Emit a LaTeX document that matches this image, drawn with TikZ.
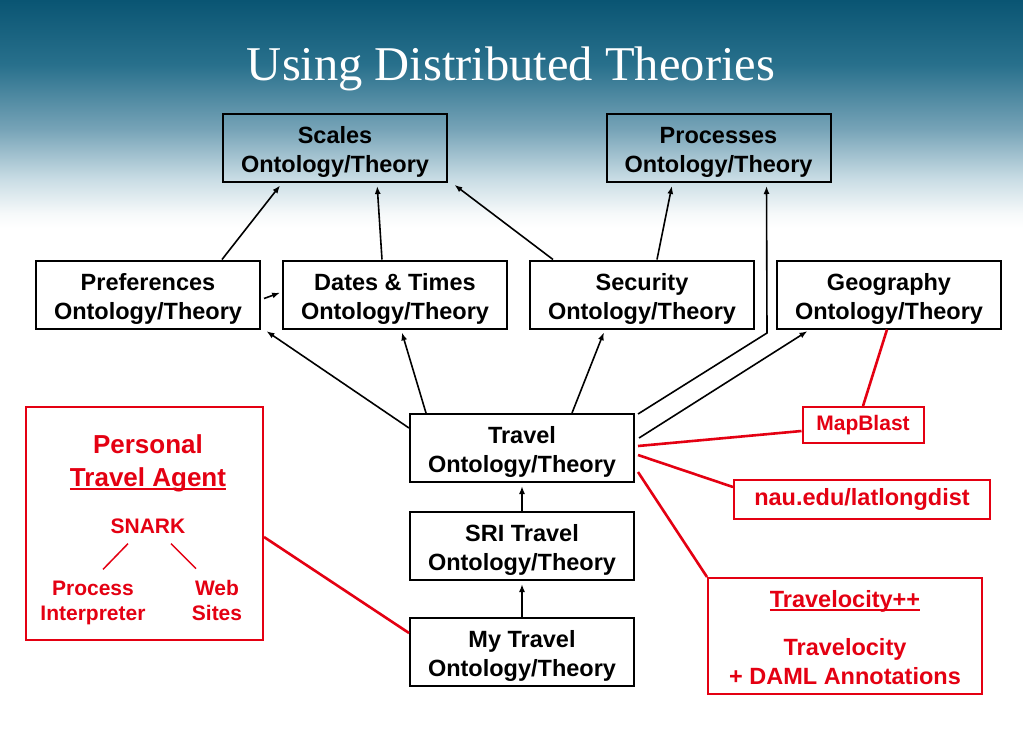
\documentclass[tikz,border=0pt]{standalone}
\usepackage{fontspec}
\setmainfont{Liberation Sans}
\newfontfamily\titlefont{Liberation Serif}
\usetikzlibrary{positioning,arrows.meta}
\definecolor{mred}{RGB}{228,0,18}
\definecolor{sky0}{RGB}{10,85,115}
\definecolor{sky1}{RGB}{40,112,140}
\definecolor{sky2}{RGB}{118,163,183}
\definecolor{sky3}{RGB}{200,220,228}
\definecolor{sky4}{RGB}{246,249,250}
\pgfdeclareverticalshading{skyfade}{100bp}{color(0bp)=(white); color(25bp)=(white); color(28.25bp)=(sky4); color(35.85bp)=(sky3); color(46.75bp)=(sky2); color(60.85bp)=(sky1); color(75bp)=(sky0); color(100bp)=(sky0)}
\newcommand\thickul[1]{\setbox0\hbox{#1}\rlap{\rule[-3.5pt]{\wd0}{2pt}}\box0}
\newcommand\onto[1]{\rule{0pt}{25pt}#1\\Ontology/Theory}
\begin{document}
\begin{tikzpicture}[x=1pt, y=-1pt, node distance=21pt,
  font=\bfseries\fontsize{23.5}{29}\selectfont,
  box/.style={draw, line width=2pt, minimum width=224pt, minimum height=68pt, align=center, inner sep=0pt},
  wbox/.style={box, fill=white},
  rbox/.style={draw=mred, text=mred, line width=2pt, align=center, inner sep=0pt},
  rtext/.style={text=mred, align=center, inner sep=0pt},
  small/.style={font=\bfseries\fontsize{21}{25}\selectfont},
  arr/.style={line width=1.6pt, -{Latex[length=8pt,width=6pt]}, shorten >=3pt},
  rline/.style={mred, line width=2.6pt},
  tline/.style={mred, line width=1.5pt}]
\useasboundingbox (0,0) rectangle (1023,731);
\fill[white] (0,0) rectangle (1023,731);
\fill[shading=skyfade] (0,0) rectangle (1023,228);
\node[font=\titlefont\fontsize{48.5}{58}\selectfont, text=white, anchor=base] (title) at (511,80) {Using Distributed Theories};

\node[box] (scales) at (335,148) {\onto{Scales}};
\node[box] (procs) at (718.5,148) {\onto{Processes}};
\node[wbox] (prefs) at (148,294.5) {\onto{Preferences}};
\node[wbox, right=of prefs] (dates) {\onto{Dates \& Times}};
\node[wbox, right=of dates] (secur) {\onto{Security}};
\node[wbox, right=of secur] (geo) {\onto{Geography}};
\node[wbox] (travel) at (522,448) {\onto{Travel}};
\node[wbox, below=28pt of travel] (sri) {\onto{SRI Travel}};
\node[wbox, below=36pt of sri] (mytrav) {\onto{My Travel}};

\node[rbox, small, minimum width=121pt, minimum height=36pt] (mapb) at (863,425) {MapBlast};
\node[rbox, minimum width=256pt, minimum height=39pt] (nau) at (862,499.5) {nau.edu/latlongdist};
\node[rbox, minimum width=274pt, minimum height=116pt] (trvl) at (845,636) {\rule{0pt}{21pt}\thickul{Travelocity++}\\[19pt]Travelocity\\+ DAML Annotations};
\node[rbox, minimum width=237pt, minimum height=233pt] (pta) at (144.5,523.5) {};
\node[rtext, font=\bfseries\fontsize{26}{33}\selectfont] (ptaname) at (148,462) {\rule{0pt}{21pt}Personal\\\thickul{Travel Agent}};
\node[rtext, small] (snark) at (148,526) {SNARK};
\node[rtext, small] (interp) at (93,602.5) {Process\\Interpreter};
\node[rtext, small] (websites) at (217,600) {Web\\Sites};

\coordinate (bend) at (767,333);

\draw[arr] ([xshift=-39pt]prefs.north east) -- ([xshift=60pt]scales.south west);
\draw[arr] ([xshift=-13pt]dates.north) -- ([xshift=42pt]scales.south);
\draw[arr] ([xshift=24pt]secur.north west) -- ([xshift=4pt]scales.south east);
\draw[arr] ([xshift=15pt]secur.north) -- ([xshift=-46pt]procs.south);
\draw[arr, shorten >=2pt] ([xshift=3pt,yshift=-4pt]prefs.east) -- ([yshift=2.5pt]dates.west);
\draw[arr] ([yshift=-15pt]travel.north west) -- ([xshift=3pt]prefs.south east);
\draw[arr] ([xshift=17pt]travel.north west) -- ([xshift=6pt]dates.south);
\draw[arr] ([xshift=50pt]travel.north) -- ([xshift=-37pt]secur.south);
\draw[arr] ([xshift=3pt,yshift=-1pt]travel.north east) -- (bend) -- ([xshift=-65pt]procs.south east);
\draw[arr] ([xshift=4pt,yshift=10pt]travel.east) -- ([xshift=34pt]geo.south west);
\draw[arr] (sri.north) -- (travel.south);
\draw[arr] (mytrav.north) -- (sri.south);

\draw[rline] ([xshift=-2pt]geo.south) -- (mapb.north);
\draw[rline] ([xshift=3pt,yshift=2pt]travel.east) -- ([yshift=-6pt]mapb.west);
\draw[rline] ([xshift=3pt,yshift=-7pt]travel.east) -- ([yshift=12.5pt]nau.west);
\draw[rline] ([xshift=3pt,yshift=-24pt]travel.east) -- (trvl.north west);
\draw[rline] ([yshift=-13.5pt]pta.east) -- ([yshift=19pt]mytrav.west);
\draw[tline] ([xshift=-20pt,yshift=-10pt]snark.south) -- ([xshift=10pt,yshift=11pt]interp.north);
\draw[tline] ([xshift=23pt,yshift=-10pt]snark.south) -- ([xshift=-21pt,yshift=11pt]websites.north);
\end{tikzpicture}
\end{document}
